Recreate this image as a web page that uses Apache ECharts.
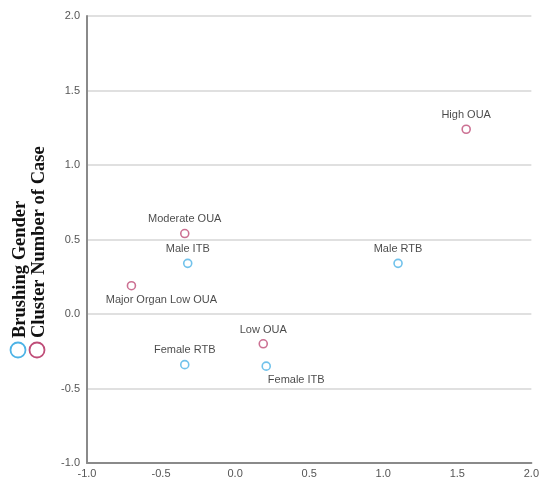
<!DOCTYPE html>
<html>
<head>
<meta charset="utf-8">
<script src="https://cdn.jsdelivr.net/npm/echarts@6/dist/echarts.min.js"></script>
<style>
  html, body { margin: 0; padding: 0; background: #fff; }
  #chart-container { width: 542px; height: 481px; }
</style>
</head>
<body>
<div id="chart-container"></div>
<script>
// data
let genderNames = ["Male RTB", "Male ITB", "Female RTB", "Female ITB"];
let genderX = [1.10, -0.32, -0.34, 0.21];
let genderY = [0.34, 0.34, -0.34, -0.35];
let genderLabelPos = ["top", "top", "top", "bottom"];

let clusterNames = ["High OUA", "Moderate OUA", "Major Organ Low OUA", "Low OUA"];
let clusterX = [1.56, -0.34, -0.70, 0.19];
let clusterY = [1.24, 0.54, 0.19, -0.20];
let clusterLabelPos = ["top", "top", "bottom", "top"];

let axisTicks = [-1.0, -0.5, 0.0, 0.5, 1.0, 1.5, 2.0];
let seriesNames = ["Brushing Gender", "Cluster Number of Case"];
let colors = ["#4db3e6", "#bf4d78"];

let dom = document.getElementById("chart-container");
let myChart = echarts.init(dom, null, { renderer: "canvas" });

function buildData(names, xs, ys, pos) {
    return names.map(function (n, i) {
        let item = { name: n, value: [xs[i], ys[i]], label: { position: pos[i] } };
        if (n === "Major Organ Low OUA") item.label.offset = [30, 0];
        if (n === "Female ITB") item.label.offset = [30, 0];
        return item;
    });
}

let fmt = function (v) { return v.toFixed(1); };

let labelStyle = { show: true, formatter: "{b}", color: "#1a1a1a", fontSize: 11, fontFamily: "Liberation Sans", distance: 4 };

let option = {
    animation: false,
    grid: { left: 87, right: 10, top: 16, bottom: 18 },
    xAxis: {
        type: "value",
        min: axisTicks[0],
        max: axisTicks[axisTicks.length - 1],
        interval: 0.5,
        axisLine: { onZero: false, lineStyle: { color: "#8a8a8a", width: 2 } },
        axisTick: { show: false },
        splitLine: { show: false },
        axisLabel: { formatter: fmt, color: "#555", fontSize: 11, margin: 5, fontFamily: "Liberation Sans" },
    },
    yAxis: {
        type: "value",
        min: axisTicks[0],
        max: axisTicks[axisTicks.length - 1],
        interval: 0.5,
        axisLine: { show: true, onZero: false, lineStyle: { color: "#8a8a8a", width: 2 } },
        axisTick: { show: false },
        splitLine: { lineStyle: { color: "#d6d6d6", width: 1.5 } },
        axisLabel: { formatter: fmt, color: "#555", fontSize: 11, margin: 7, fontFamily: "Liberation Sans" },
    },
    series: [{
        name: seriesNames[0],
        type: "scatter",
        symbol: "circle",
        symbolSize: 8,
        itemStyle: { color: "#fff", borderColor: colors[0], borderWidth: 1.6 },
        label: labelStyle,
        data: buildData(genderNames, genderX, genderY, genderLabelPos),
    }, {
        name: seriesNames[1],
        type: "scatter",
        symbol: "circle",
        symbolSize: 8,
        itemStyle: { color: "#fff", borderColor: colors[1], borderWidth: 1.6 },
        label: labelStyle,
        data: buildData(clusterNames, clusterX, clusterY, clusterLabelPos),
    }],
    graphic: [
        { type: "circle", shape: { cx: 18, cy: 350, r: 7.5 }, style: { fill: "none", stroke: colors[0], lineWidth: 1.8 } },
        { type: "circle", shape: { cx: 37, cy: 350, r: 7.5 }, style: { fill: "none", stroke: colors[1], lineWidth: 1.8 } },
        {
            type: "text", x: 20, y: 338, rotation: Math.PI / 2,
            style: { text: seriesNames[0], fill: "#111", font: "bold 18.5px 'Liberation Serif'", align: "left", verticalAlign: "middle" }
        },
        {
            type: "text", x: 39, y: 338, rotation: Math.PI / 2,
            style: { text: seriesNames[1], fill: "#111", font: "bold 18.5px 'Liberation Serif'", align: "left", verticalAlign: "middle" }
        },
    ],
};

if (option && typeof option === "object") {
    myChart.setOption(option);
}

window.addEventListener("resize", myChart.resize);
</script>
</body>
</html>
